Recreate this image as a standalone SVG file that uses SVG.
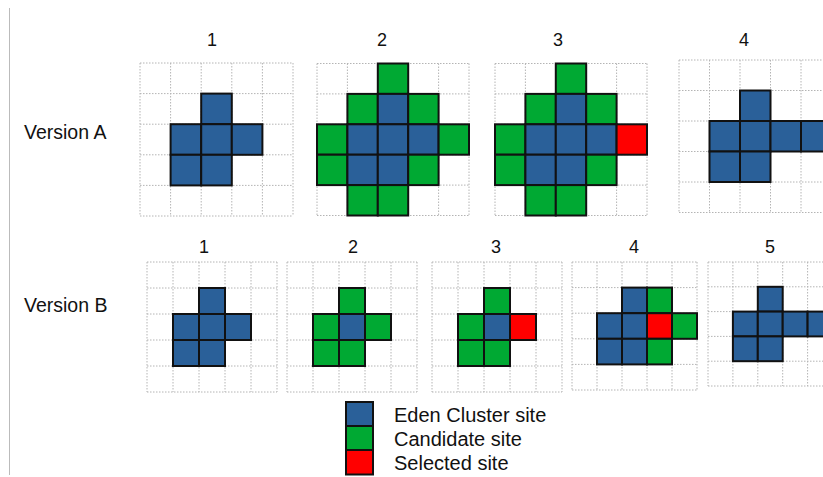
<svg xmlns="http://www.w3.org/2000/svg" width="823" height="477" viewBox="0 0 823 477">
<style>
text{font-family:"Liberation Sans",Arial,sans-serif;fill:#111;}
.num{font-size:18px;text-anchor:middle;}
.lbl{font-size:19.5px;}
.leg{font-size:20px;}
.grid{fill:none;stroke:#b4b4b4;stroke-width:1;stroke-dasharray:1.5 1.5;}
.b{fill:#2A6099;stroke:#111;stroke-width:2;}
.g{fill:#00A933;stroke:#111;stroke-width:2;}
.r{fill:#FF0000;stroke:#111;stroke-width:2;}
</style>
<rect width="823" height="477" fill="#fff"/>
<line x1="9.5" y1="8" x2="9.5" y2="475" stroke="#bbb" stroke-width="1"/>
<text class="lbl" x="24" y="139">Version A</text>
<text class="lbl" x="24" y="312">Version B</text>

<g id="A1">
<text class="num" x="212" y="46">1</text>
<path class="grid" d="M140 63H293M140 93.6H293M140 124.2H293M140 154.8H293M140 185.4H293M140 216H293M140 63V216M170.6 63V216M201.2 63V216M231.8 63V216M262.4 63V216M293 63V216"/>
<rect class="b" x="201.2" y="93.6" width="30.6" height="30.6"/>
<rect class="b" x="170.6" y="124.2" width="30.6" height="30.6"/>
<rect class="b" x="201.2" y="124.2" width="30.6" height="30.6"/>
<rect class="b" x="231.8" y="124.2" width="30.6" height="30.6"/>
<rect class="b" x="170.6" y="154.8" width="30.6" height="30.6"/>
<rect class="b" x="201.2" y="154.8" width="30.6" height="30.6"/>
</g>

<g id="A2">
<text class="num" x="382" y="46">2</text>
<path class="grid" d="M317 63.5H469M317 93.9H469M317 124.3H469M317 154.7H469M317 185.1H469M317 215.5H469M317 63.5V215.5M347.4 63.5V215.5M377.8 63.5V215.5M408.2 63.5V215.5M438.6 63.5V215.5M469 63.5V215.5"/>
<rect class="g" x="377.8" y="63.5" width="30.4" height="30.4"/>
<rect class="g" x="347.4" y="93.9" width="30.4" height="30.4"/>
<rect class="b" x="377.8" y="93.9" width="30.4" height="30.4"/>
<rect class="g" x="408.2" y="93.9" width="30.4" height="30.4"/>
<rect class="g" x="317" y="124.3" width="30.4" height="30.4"/>
<rect class="b" x="347.4" y="124.3" width="30.4" height="30.4"/>
<rect class="b" x="377.8" y="124.3" width="30.4" height="30.4"/>
<rect class="b" x="408.2" y="124.3" width="30.4" height="30.4"/>
<rect class="g" x="438.6" y="124.3" width="30.4" height="30.4"/>
<rect class="g" x="317" y="154.7" width="30.4" height="30.4"/>
<rect class="b" x="347.4" y="154.7" width="30.4" height="30.4"/>
<rect class="b" x="377.8" y="154.7" width="30.4" height="30.4"/>
<rect class="g" x="408.2" y="154.7" width="30.4" height="30.4"/>
<rect class="g" x="347.4" y="185.1" width="30.4" height="30.4"/>
<rect class="g" x="377.8" y="185.1" width="30.4" height="30.4"/>
</g>

<g id="A3">
<text class="num" x="558" y="46">3</text>
<path class="grid" d="M495 63.5H647M495 93.9H647M495 124.3H647M495 154.7H647M495 185.1H647M495 215.5H647M495 63.5V215.5M525.4 63.5V215.5M555.8 63.5V215.5M586.2 63.5V215.5M616.6 63.5V215.5M647 63.5V215.5"/>
<rect class="g" x="555.8" y="63.5" width="30.4" height="30.4"/>
<rect class="g" x="525.4" y="93.9" width="30.4" height="30.4"/>
<rect class="b" x="555.8" y="93.9" width="30.4" height="30.4"/>
<rect class="g" x="586.2" y="93.9" width="30.4" height="30.4"/>
<rect class="g" x="495" y="124.3" width="30.4" height="30.4"/>
<rect class="b" x="525.4" y="124.3" width="30.4" height="30.4"/>
<rect class="b" x="555.8" y="124.3" width="30.4" height="30.4"/>
<rect class="b" x="586.2" y="124.3" width="30.4" height="30.4"/>
<rect class="r" x="616.6" y="124.3" width="30.4" height="30.4"/>
<rect class="g" x="495" y="154.7" width="30.4" height="30.4"/>
<rect class="b" x="525.4" y="154.7" width="30.4" height="30.4"/>
<rect class="b" x="555.8" y="154.7" width="30.4" height="30.4"/>
<rect class="g" x="586.2" y="154.7" width="30.4" height="30.4"/>
<rect class="g" x="525.4" y="185.1" width="30.4" height="30.4"/>
<rect class="g" x="555.8" y="185.1" width="30.4" height="30.4"/>
</g>

<g id="A4">
<text class="num" x="744" y="46">4</text>
<path class="grid" d="M679 60H832M679 90.5H832M679 121H832M679 151.5H832M679 182H832M679 212.5H832M679 60V212.5M709.5 60V212.5M740 60V212.5M770.5 60V212.5M801 60V212.5"/>
<rect class="b" x="740" y="90.5" width="30.5" height="30.5"/>
<rect class="b" x="709.5" y="121" width="30.5" height="30.5"/>
<rect class="b" x="740" y="121" width="30.5" height="30.5"/>
<rect class="b" x="770.5" y="121" width="30.5" height="30.5"/>
<rect class="b" x="801" y="121" width="30.5" height="30.5"/>
<rect class="b" x="709.5" y="151.5" width="30.5" height="30.5"/>
<rect class="b" x="740" y="151.5" width="30.5" height="30.5"/>
</g>

<g id="B1">
<text class="num" x="204" y="253">1</text>
<path class="grid" d="M147 262H277M147 288H277M147 314H277M147 340H277M147 366H277M147 392H277M147 262V392M173 262V392M199 262V392M225 262V392M251 262V392M277 262V392"/>
<rect class="b" x="199" y="288" width="26" height="26"/>
<rect class="b" x="173" y="314" width="26" height="26"/>
<rect class="b" x="199" y="314" width="26" height="26"/>
<rect class="b" x="225" y="314" width="26" height="26"/>
<rect class="b" x="173" y="340" width="26" height="26"/>
<rect class="b" x="199" y="340" width="26" height="26"/>
</g>

<g id="B2">
<text class="num" x="353" y="253">2</text>
<path class="grid" d="M287 262H417M287 288H417M287 314H417M287 340H417M287 366H417M287 392H417M287 262V392M313 262V392M339 262V392M365 262V392M391 262V392M417 262V392"/>
<rect class="g" x="339" y="288" width="26" height="26"/>
<rect class="g" x="313" y="314" width="26" height="26"/>
<rect class="b" x="339" y="314" width="26" height="26"/>
<rect class="g" x="365" y="314" width="26" height="26"/>
<rect class="g" x="313" y="340" width="26" height="26"/>
<rect class="g" x="339" y="340" width="26" height="26"/>
</g>

<g id="B3">
<text class="num" x="496" y="253">3</text>
<path class="grid" d="M432 262H562M432 288H562M432 314H562M432 340H562M432 366H562M432 392H562M432 262V392M458 262V392M484 262V392M510 262V392M536 262V392M562 262V392"/>
<rect class="g" x="484" y="288" width="26" height="26"/>
<rect class="g" x="458" y="314" width="26" height="26"/>
<rect class="b" x="484" y="314" width="26" height="26"/>
<rect class="r" x="510" y="314" width="26" height="26"/>
<rect class="g" x="458" y="340" width="26" height="26"/>
<rect class="g" x="484" y="340" width="26" height="26"/>
</g>

<g id="B4">
<text class="num" x="634" y="253">4</text>
<path class="grid" d="M572 262H697M572 287.6H697M572 313.2H697M572 338.8H697M572 364.4H697M572 390H697M572 262V390M597 262V390M622 262V390M647 262V390M672 262V390M697 262V390"/>
<rect class="b" x="622" y="287.6" width="25" height="25.6"/>
<rect class="g" x="647" y="287.6" width="25" height="25.6"/>
<rect class="b" x="597" y="313.2" width="25" height="25.6"/>
<rect class="b" x="622" y="313.2" width="25" height="25.6"/>
<rect class="r" x="647" y="313.2" width="25" height="25.6"/>
<rect class="g" x="672" y="313.2" width="25" height="25.6"/>
<rect class="b" x="597" y="338.8" width="25" height="25.6"/>
<rect class="b" x="622" y="338.8" width="25" height="25.6"/>
<rect class="g" x="647" y="338.8" width="25" height="25.6"/>
</g>

<g id="B5">
<text class="num" x="770" y="253">5</text>
<path class="grid" d="M708 262H832M708 286.8H832M708 311.6H832M708 336.4H832M708 361.2H832M708 386H832M708 262V386M732.9 262V386M757.8 262V386M782.7 262V386M807.6 262V386"/>
<rect class="b" x="757.8" y="286.8" width="24.9" height="24.8"/>
<rect class="b" x="732.9" y="311.6" width="24.9" height="24.8"/>
<rect class="b" x="757.8" y="311.6" width="24.9" height="24.8"/>
<rect class="b" x="782.7" y="311.6" width="24.9" height="24.8"/>
<rect class="b" x="807.6" y="311.6" width="24.9" height="24.8"/>
<rect class="b" x="732.9" y="336.4" width="24.9" height="24.8"/>
<rect class="b" x="757.8" y="336.4" width="24.9" height="24.8"/>
</g>

<g id="legend">
<rect class="b" x="346" y="402" width="27" height="24"/>
<rect class="g" x="346" y="426" width="27" height="24"/>
<rect class="r" x="346" y="450" width="27" height="24.5"/>
<text class="leg" x="394" y="422">Eden Cluster site</text>
<text class="leg" x="394" y="446">Candidate site</text>
<text class="leg" x="394" y="470">Selected site</text>
</g>
</svg>
